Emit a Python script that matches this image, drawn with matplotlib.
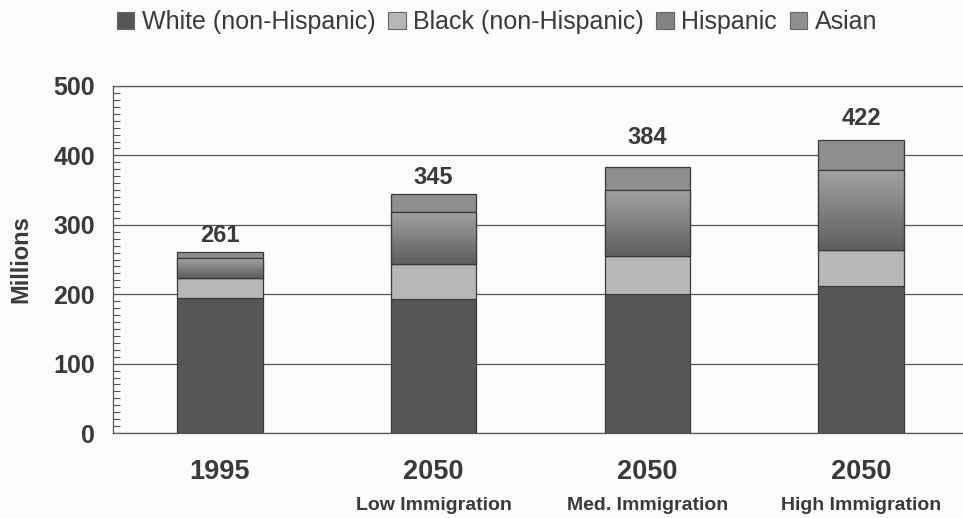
import numpy as np
import matplotlib
matplotlib.use("Agg")
import matplotlib.pyplot as plt
from matplotlib.patches import Patch
from matplotlib.ticker import MultipleLocator
from matplotlib import transforms

# Population by group (millions)
years = ["1995", "2050", "2050", "2050"]
scenarios = ["", "Low Immigration", "Med. Immigration", "High Immigration"]
totals = [261, 345, 384, 422]
white = [195, 193, 201, 212]
black = [29, 50, 54, 52]
hispanic = [28, 76, 95, 115]
asian = [9, 26, 34, 43]

groups = ["White (non-Hispanic)", "Black (non-Hispanic)", "Hispanic", "Asian"]
colors = ["#565656", "#b7b7b7", "#838383", "#8f8f8f"]
edge = "#3a3a3a"
text_col = "#3a3a3a"
# vertical gap (points) between each bar top and its total label
label_gap = [3.5, 3.5, 12.5, 7.5]

plt.rcParams["font.family"] = ["Liberation Sans", "DejaVu Sans"]

fig = plt.figure(figsize=(9.63, 5.18), dpi=100, facecolor="#fcfcfc")
ax = fig.add_axes([0.1173, 0.164, 0.888, 0.670])
ax.set_facecolor("#fcfcfc")

x = np.arange(len(years))
width = 0.40
bottom = np.zeros(len(years))
series = [white, black, hispanic, asian]
bars_by_series = []
for vals, col in zip(series, colors):
    b = ax.bar(x, vals, width, bottom=bottom, color=col, edgecolor=edge,
               linewidth=0.9, zorder=3)
    bars_by_series.append(b)
    bottom += np.array(vals)

# shaded fill on the Hispanic segments: lighter at the top, darker below
grad = np.linspace(0, 1, 256).reshape(-1, 1)
cmap = matplotlib.colors.LinearSegmentedColormap.from_list(
    "hisp", ["#5e5e5e", "#a2a2a2"])
for rect in bars_by_series[2]:
    x0, y0 = rect.get_x(), rect.get_y()
    w, h = rect.get_width(), rect.get_height()
    im = ax.imshow(grad, extent=[x0, x0 + w, y0, y0 + h], origin="lower",
                   cmap=cmap, aspect="auto", zorder=3.5)
    im.set_clip_path(rect)
    ax.add_patch(plt.Rectangle((x0, y0), w, h, fill=False, edgecolor=edge,
                               linewidth=0.9, zorder=4))

for xi, t, g in zip(x, totals, label_gap):
    ax.annotate(f"{t}", xy=(xi, t), xytext=(0, g), textcoords="offset points",
                ha="center", va="bottom", fontsize=17, fontweight="bold",
                color=text_col)

ax.set_xlim(-0.5, 3.5)
ax.set_ylim(0, 500)
ax.yaxis.set_major_locator(MultipleLocator(100))
ax.yaxis.set_minor_locator(MultipleLocator(10))
ax.grid(axis="y", which="major", color="#555555", linewidth=0.9, zorder=1)
ax.tick_params(axis="y", which="major", length=0, labelsize=18, pad=13,
               labelcolor=text_col)
ax.tick_params(axis="y", which="minor", direction="in", length=5,
               width=0.8, color="#555555")
for lbl in ax.get_yticklabels():
    lbl.set_fontweight("bold")

ax.set_xticks(x)
ax.set_xticklabels(years, fontsize=19.5, fontweight="bold", color=text_col)
ax.tick_params(axis="x", length=0, pad=19)

trans = transforms.blended_transform_factory(ax.transData, fig.transFigure)
for xi, s in zip(x, scenarios):
    if s:
        ax.text(xi, 1 - 505 / 518, s, transform=trans, ha="center",
                va="center", fontsize=14, fontweight="bold", color=text_col)

for side in ["left", "top", "bottom", "right"]:
    ax.spines[side].set_color("#555555")
    ax.spines[side].set_linewidth(0.9)

ax.set_ylabel("Millions", fontsize=17, fontweight="bold", color=text_col,
              labelpad=15)

handles = [Patch(facecolor=c, edgecolor="#666666", linewidth=0.8) for c in colors]
fig.legend(handles, groups, loc="center", bbox_to_anchor=(497 / 963, 1 - 22 / 518),
           ncol=4, frameon=False, fontsize=18, handlelength=0.7,
           handleheight=0.7, handletextpad=0.3, columnspacing=0.5,
           labelcolor=text_col)

fig.savefig("out.png", dpi=100, facecolor=fig.get_facecolor())
